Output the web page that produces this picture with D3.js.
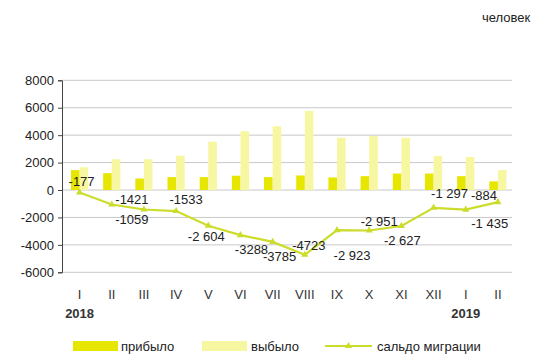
<!DOCTYPE html>
<html><head><meta charset="utf-8">
<script src="https://cdn.jsdelivr.net/npm/d3@7/dist/d3.min.js"></script>
<style>body{margin:0;background:#fff}svg{display:block}text{font-family:"Liberation Sans",Arial,sans-serif}</style>
</head><body><svg id="c" width="550" height="360"></svg>
<script>
const categories = ["I","II","III","IV","V","VI","VII","VIII","IX","X","XI","XII","I","II"];
const yearLabels = ["2018","","","","","","","","","","","","2019",""];
const arrived = [1450,1230,840,940,940,1040,940,1060,915,1010,1200,1200,1010,630];
const departed = [1660,2240,2240,2500,3520,4290,4650,5760,3810,3930,3810,2480,2410,1450];
const balance = [-177,-1059,-1421,-1533,-2604,-3288,-3785,-4723,-2923,-2951,-2627,-1297,-1435,-884];
const balanceText = ["-177","-1059","-1421","-1533","-2 604","-3288","-3785","-4723","-2 923","-2 951","-2 627","-1 297","-1 435","-884"];
const yTicks = [-6000,-4000,-2000,0,2000,4000,6000,8000];
const seriesNames = ["прибыло","выбыло","сальдо миграции"];
const unitLabel = "человек";
// label offsets (dx, dy) relative to each point
const labelOffsets = [[2,-11],[20,15],[-12,-10],[10,-12],[-2,11],[11,14],[7,15],[4,-9],[15,25],[10,-9],[1,14],[16,-14],[24,14],[-14,-7]];

const colors = {arr:"#e6e600", dep:"#f7f7a2", line:"#cbdc2a", grid:"#c8c8c8", text:"#222"};
const svg = d3.select("#c");
const x = d3.scaleBand().domain(d3.range(categories.length)).range([63.5,514]);
const y = d3.scaleLinear().domain([-6000,8000]).range([272.3,80.3]);
const bw = 8.6;

// grid
svg.append("g").selectAll("line").data(yTicks).join("line")
  .attr("x1",62).attr("x2",512).attr("y1",d=>y(d)).attr("y2",d=>y(d))
  .attr("stroke",colors.grid).attr("stroke-width",1);

// y axis
const ya = svg.append("g").attr("transform","translate(62,0)")
  .call(d3.axisLeft(y).tickValues(yTicks).tickSize(4).tickPadding(4).tickFormat(d=>String(d)));
ya.select(".domain").attr("stroke","#444");
ya.selectAll(".tick line").attr("stroke","#444");
ya.selectAll(".tick text").attr("font-size",13).attr("fill",colors.text).style("font-family","Liberation Sans, Arial, sans-serif");

// bars
svg.append("g").selectAll("rect").data(arrived).join("rect")
  .attr("x",(d,i)=>x(i)+x.bandwidth()/2-bw).attr("width",bw)
  .attr("y",d=>y(d)).attr("height",d=>y(0)-y(d)).attr("fill",colors.arr);
svg.append("g").selectAll("rect").data(departed).join("rect")
  .attr("x",(d,i)=>x(i)+x.bandwidth()/2).attr("width",bw)
  .attr("y",d=>y(d)).attr("height",d=>y(0)-y(d)).attr("fill",colors.dep);

// line
const cx = i => x(i)+x.bandwidth()/2;
svg.append("path").datum(balance)
  .attr("d",d3.line().x((d,i)=>cx(i)).y(d=>y(d)))
  .attr("fill","none").attr("stroke",colors.line).attr("stroke-width",2.2);
const tri = d3.symbol().type(d3.symbolTriangle).size(22);
svg.append("g").selectAll("path").data(balance).join("path")
  .attr("d",tri).attr("transform",(d,i)=>`translate(${cx(i)},${y(d)})`).attr("fill",colors.line);

// data labels
svg.append("g").selectAll("text").data(balance).join("text")
  .attr("x",(d,i)=>cx(i)+labelOffsets[i][0]).attr("y",(d,i)=>y(d)+labelOffsets[i][1])
  .attr("text-anchor","middle").attr("dominant-baseline","central")
  .attr("font-size",13).attr("fill",colors.text).text((d,i)=>balanceText[i]);

// x labels
svg.append("g").selectAll("text").data(categories).join("text")
  .attr("x",(d,i)=>cx(i)).attr("y",294).attr("text-anchor","middle").attr("dominant-baseline","central")
  .attr("font-size",13).attr("fill","#333").text(d=>d);
svg.append("g").selectAll("text").data(yearLabels).join("text")
  .attr("x",(d,i)=>cx(i)).attr("y",313).attr("text-anchor","middle").attr("dominant-baseline","central")
  .attr("font-size",13).attr("font-weight","bold").attr("fill","#333").text(d=>d);

// unit
svg.append("text").attr("x",506).attr("y",17).attr("text-anchor","middle").attr("dominant-baseline","central")
  .attr("font-size",13).attr("fill",colors.text).text(unitLabel);

// legend
const lg = svg.append("g");
lg.append("rect").attr("x",73).attr("y",341).attr("width",45).attr("height",10).attr("fill",colors.arr);
lg.append("text").attr("x",121).attr("y",346).attr("dominant-baseline","central").attr("font-size",13).attr("fill",colors.text).text(seriesNames[0]);
lg.append("rect").attr("x",202).attr("y",341).attr("width",45).attr("height",10).attr("fill",colors.dep);
lg.append("text").attr("x",251).attr("y",346).attr("dominant-baseline","central").attr("font-size",13).attr("fill",colors.text).text(seriesNames[1]);
lg.append("line").attr("x1",325).attr("x2",372).attr("y1",346).attr("y2",346).attr("stroke",colors.line).attr("stroke-width",2.2);
lg.append("path").attr("d",tri).attr("transform","translate(348.5,346)").attr("fill",colors.line);
lg.append("text").attr("x",377).attr("y",346).attr("dominant-baseline","central").attr("font-size",13).attr("fill",colors.text).text(seriesNames[2]);
</script></body></html>
